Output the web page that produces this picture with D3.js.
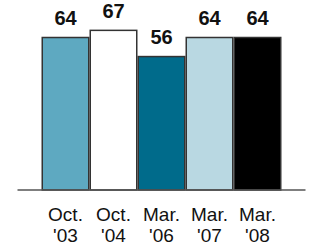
<!DOCTYPE html>
<html><head><meta charset="utf-8">
<script src="https://cdn.jsdelivr.net/npm/d3@7"></script>
<style>body{margin:0;background:#fff}svg{display:block}</style>
</head><body>
<script>
const categories = ["Oct.|'03", "Oct.|'04", "Mar.|'06", "Mar.|'07", "Mar.|'08"];
const values = [64, 67, 56, 64, 64];
const colors = ["#5ea9c1", "#ffffff", "#006b8b", "#b9d8e2", "#000000"];

const W = 312, H = 246, base = 190;
const svg = d3.select("body").append("svg").attr("width", W).attr("height", H);
const x = d3.scaleBand().domain(categories).range([41.5, 281.5]).padding(0);
const y = d3.scaleLinear().domain([0, 64]).range([base, 37.5]);

svg.append("g").selectAll("rect").data(values).join("rect")
  .attr("x", (d, i) => x(categories[i]) + 0.75)
  .attr("width", x.bandwidth() - 1.5)
  .attr("y", d => y(d))
  .attr("height", d => base - y(d))
  .attr("fill", (d, i) => colors[i])
  .attr("stroke", "#333")
  .attr("stroke-width", 1.5);

svg.append("g").selectAll("text").data(values).join("text")
  .attr("x", (d, i) => x(categories[i]) + x.bandwidth() / 2)
  .attr("y", d => y(d) - 12.5)
  .attr("text-anchor", "middle")
  .attr("font-family", "Liberation Sans, Arial, sans-serif")
  .attr("font-weight", "bold")
  .attr("font-size", 20)
  .attr("fill", "#111")
  .text(d => d);

const axis = d3.axisBottom(x).tickSize(0).tickFormat("");
const ag = svg.append("g").attr("transform", `translate(0,${base})`).call(axis);
ag.select(".domain").attr("d", "M17.5,0H305.5").attr("stroke", "#555").attr("stroke-width", 1.5);

const labels = svg.append("g").selectAll("text").data(categories).join("text")
  .attr("text-anchor", "middle")
  .attr("font-family", "Liberation Sans, Arial, sans-serif")
  .attr("font-size", 19)
  .attr("fill", "#111");
labels.each(function(c) {
  const parts = c.split("|");
  const cx = x(c) + x.bandwidth() / 2;
  d3.select(this).selectAll("tspan").data(parts).join("tspan")
    .attr("x", cx)
    .attr("y", (p, j) => 221 + j * 21)
    .text(p => p);
});
</script>
</body></html>
